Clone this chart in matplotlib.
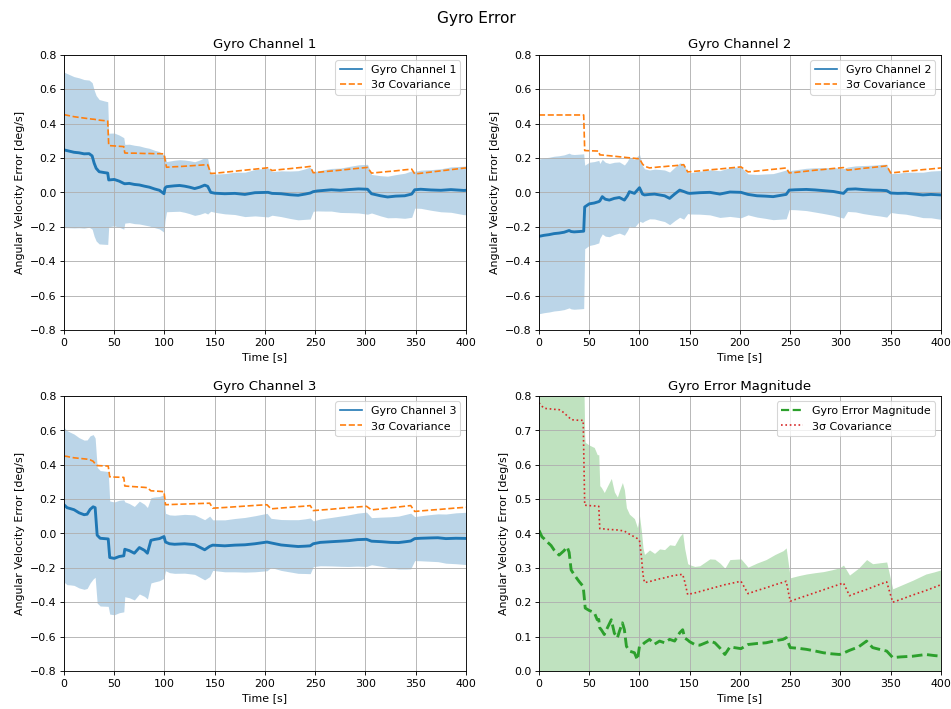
import numpy as np
import matplotlib
matplotlib.use("Agg")
import matplotlib.pyplot as plt
from matplotlib.lines import Line2D

# ---- Gyro channel 1: time [s], estimation error and 3-sigma bound [deg/s]
t1 = [0, 5, 10, 15, 20, 25, 28, 30, 32, 35,
      40, 43.5, 44.5, 50, 55, 59.5, 60.5, 65, 70, 75,
      80, 85, 90, 95, 99.5, 100.5, 102, 105, 110, 115,
      120, 125, 130, 135, 140, 143, 146, 150, 160, 170,
      180, 190, 203, 207, 216, 225, 233, 240, 245, 248,
      252, 260, 266, 275, 283, 293, 302, 306, 315, 322,
      330, 339, 346, 349, 355, 365, 375, 385, 398, 400]
err1 = [.247, .240, .233, .230, .224, .225, .212, .170, .140, .120,
        .115, .112, .072, .075, .065, .052, .050, .052, .046, .043,
        .036, .030, .020, .012, -.008, .025, .033, .035, .038, .040,
        .036, .030, .022, .030, .042, .035, .000, -.005, -.008, -.006,
        -.012, -.002, .000, -.006, -.008, -.014, -.017, -.010, -.004, .004,
        .008, .012, .015, .012, .016, .020, .018, -.008, -.020, -.027,
        -.022, -.020, -.010, .015, .018, .014, .012, .016, .011, .012]
cov1 = [.452, .446, .440, .436, .432, .428, .426, .425, .423, .420,
        .417, .415, .272, .270, .268, .266, .229, .228, .228, .227,
        .226, .226, .225, .225, .224, .190, .146, .147, .149, .150,
        .152, .154, .156, .158, .160, .161, .110, .111, .117, .123,
        .129, .135, .143, .127, .133, .138, .143, .147, .151, .114,
        .116, .121, .124, .129, .134, .140, .145, .112, .117, .121,
        .125, .131, .135, .107, .111, .118, .125, .132, .141, .142]

# ---- Gyro channel 2
t2 = [0, 5, 10, 15, 20, 25, 30, 32, 35, 40,
      44.5, 45.5, 50, 55, 59.5, 60.5, 63, 66, 70, 75,
      80, 85, 88, 90, 95, 100, 103, 105, 110, 115,
      120, 125, 130, 135, 140, 144, 148, 150, 160, 170,
      180, 190, 201, 208, 217, 225, 233, 240, 246, 249,
      255, 266, 275, 283, 293, 303, 307, 315, 323, 332,
      340, 346, 350, 357, 365, 374, 382, 390, 400]
err2 = [-.256, -.250, -.246, -.240, -.237, -.232, -.222, -.228, -.230, -.228,
        -.226, -.085, -.067, -.062, -.054, -.050, -.025, -.040, -.045, -.035,
        -.030, -.045, -.020, .004, -.006, .027, -.010, -.015, -.012, -.010,
        -.015, -.020, -.035, -.010, .013, .005, -.004, -.006, -.002, .000,
        -.010, .002, .000, -.012, -.020, -.022, -.025, -.018, -.012, .013,
        .015, .017, .014, .010, .005, -.006, .018, .020, .016, .013,
        .012, .010, -.004, -.006, -.005, -.010, -.015, -.012, -.015]
cov2 = [.450, .450, .450, .450, .450, .450, .450, .450, .450, .450,
        .450, .243, .242, .241, .240, .218, .217, .215, .213, .210,
        .207, .204, .202, .201, .198, .195, .165, .152, .142, .145,
        .148, .150, .153, .155, .158, .161, .119, .120, .125, .131,
        .136, .142, .148, .119, .124, .129, .134, .138, .142, .113,
        .116, .123, .129, .133, .139, .144, .129, .134, .140, .145,
        .150, .154, .113, .117, .122, .127, .132, .136, .142]

# ---- Gyro channel 3
t3 = [0, 3, 6, 10, 15, 20, 23, 26, 29, 31,
      33, 36, 40, 44, 45.5, 50, 55, 59.5, 60.5, 65,
      70, 75, 80, 83, 86.5, 90, 95, 99.5, 101, 105,
      110, 120, 130, 140, 145, 148, 160, 170, 180, 190,
      202, 206, 216, 225, 233, 240, 245, 248, 255, 266,
      275, 283, 292, 301, 306, 316, 325, 333, 340, 345,
      349, 355, 365, 372, 380, 390, 400]
err3 = [.167, .150, .145, .138, .120, .109, .112, .140, .155, .150,
        -.010, -.028, -.030, -.032, -.140, -.145, -.134, -.130, -.092, -.100,
        -.115, -.082, -.098, -.115, -.040, -.035, -.030, -.018, -.050, -.060,
        -.063, -.060, -.065, -.095, -.075, -.068, -.072, -.068, -.066, -.060,
        -.050, -.055, -.067, -.072, -.076, -.074, -.072, -.060, -.052, -.048,
        -.045, -.042, -.036, -.034, -.045, -.048, -.052, -.053, -.048, -.044,
        -.030, -.028, -.026, -.025, -.030, -.028, -.029]
cov3 = [.450, .448, .444, .440, .437, .434, .432, .428, .420, .405,
        .395, .394, .393, .392, .329, .328, .327, .326, .276, .274,
        .272, .270, .268, .266, .248, .247, .245, .243, .167, .168,
        .169, .171, .173, .175, .176, .147, .151, .155, .159, .163,
        .167, .143, .148, .152, .156, .159, .162, .133, .136, .141,
        .146, .150, .154, .158, .137, .143, .149, .154, .159, .162,
        .128, .131, .136, .139, .143, .148, .152]

# ---- Error magnitude and its 3-sigma bound
t4 = [0, 3, 5, 8, 12, 15, 20, 25, 28, 30,
      32, 35, 40, 44, 45.5, 46, 50, 55, 58, 59.5,
      60.5, 62, 65, 68, 72, 75, 78, 80, 83, 85,
      87, 90, 95, 98, 100, 102, 103.5, 105, 110, 115,
      120, 125, 130, 135, 140, 143, 145, 148, 150, 155,
      160, 170, 175, 180, 185, 190, 201, 208, 217, 226,
      235, 243, 246, 250, 258, 266, 275, 283, 291, 299,
      303, 309, 318, 326, 332, 340, 346, 352, 360, 372,
      385, 393, 400]
mag = [.409, .390, .385, .376, .365, .352, .337, .350, .361, .345,
       .294, .280, .260, .246, .200, .183, .176, .170, .149, .150,
       .125, .120, .106, .125, .149, .110, .096, .115, .140, .120,
       .072, .058, .053, .032, .072, .075, .078, .082, .092, .078,
       .087, .082, .092, .087, .111, .120, .096, .090, .085, .077,
       .075, .087, .082, .067, .048, .070, .065, .077, .080, .082,
       .088, .092, .097, .068, .066, .063, .058, .053, .050, .048,
       .052, .060, .070, .087, .068, .062, .058, .039, .041, .043,
       .048, .045, .043]
cov_mag = [.780, .770, .764, .763, .762, .761, .760, .751, .742, .737,
           .731, .730, .729, .729, .482, .482, .481, .480, .480, .479,
           .414, .414, .413, .412, .411, .411, .410, .409, .408, .407,
           .403, .398, .390, .385, .380, .330, .280, .257, .260, .264,
           .268, .271, .275, .278, .280, .281, .260, .222, .224, .227,
           .231, .239, .243, .247, .251, .254, .261, .225, .234, .242,
           .251, .258, .261, .203, .211, .219, .228, .236, .244, .252,
           .256, .219, .229, .237, .244, .253, .259, .200, .208, .221,
           .234, .243, .251]

channels = [
    ("Gyro Channel 1", t1, err1, cov1),
    ("Gyro Channel 2", t2, err2, cov2),
    ("Gyro Channel 3", t3, err3, cov3),
]

fig = plt.figure(figsize=(12, 8.94), dpi=79.33)
fig.suptitle("Gyro Error", fontsize=14, y=0.985)

W, H = 952, 709
boxes = [(64, 55), (539, 55), (64, 396), (539, 396)]
axes = []
for (x0, y0) in boxes:
    axes.append(fig.add_axes([x0 / W, 1 - (y0 + 275) / H, 402 / W, 275 / H]))

ylabel = "Angular Velocity Error [deg/s]"

for ax, (name, t, e, c) in zip(axes[:3], channels):
    t = np.asarray(t, float)
    e = np.asarray(e, float)
    c = np.asarray(c, float)
    ax.fill_between(t, e - c, e + c, color="C0", alpha=0.3, linewidth=0)
    ax.plot(t, e, color="C0", lw=2.6)
    ax.plot(t, c, "--", color="C1", lw=1.5)
    ax.set_xlim(0, 400)
    ax.set_ylim(-0.8, 0.8)
    ax.set_xticks(np.arange(0, 401, 50))
    ax.set_yticks(np.arange(-0.8, 0.81, 0.2))
    ax.grid(True)
    ax.set_title(name, fontsize=12)
    ax.set_xlabel("Time [s]")
    ax.set_ylabel(ylabel)
    handles = [Line2D([], [], color="C0", lw=1.5),
               Line2D([], [], color="C1", ls="--", lw=1.5)]
    ax.legend(handles, [name, "3σ Covariance"], loc="upper right")

ax = axes[3]
tm = np.asarray(t4, float)
m = np.asarray(mag, float)
cm = np.asarray(cov_mag, float)
ax.fill_between(tm, m - cm, m + cm, color="C2", alpha=0.3, linewidth=0)
ax.plot(tm, m, "--", color="C2", lw=2.6)
ax.plot(tm, cm, ":", color="C3", lw=1.5)
ax.set_xlim(0, 400)
ax.set_ylim(0, 0.8)
ax.set_xticks(np.arange(0, 401, 50))
ax.set_yticks(np.arange(0, 0.81, 0.1))
ax.grid(True)
ax.set_title("Gyro Error Magnitude", fontsize=12)
ax.set_xlabel("Time [s]")
ax.set_ylabel(ylabel)
handles = [Line2D([], [], color="C2", ls="--", lw=2.0),
           Line2D([], [], color="C3", ls=":", lw=1.5)]
ax.legend(handles, ["Gyro Error Magnitude", "3σ Covariance"], loc="upper right")

fig.savefig("out.png", dpi=79.33)
